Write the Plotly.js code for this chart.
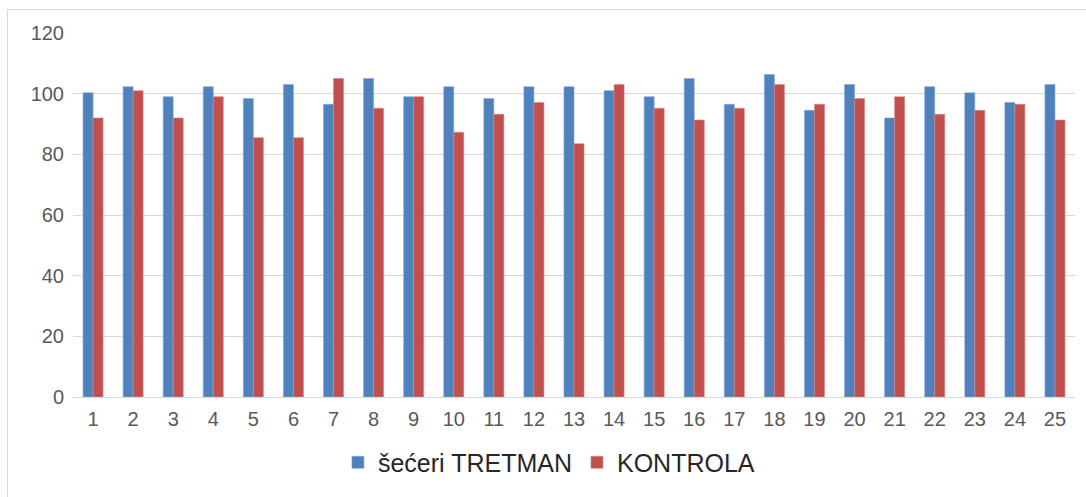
<!DOCTYPE html>
<html>
<head>
<meta charset="utf-8">
<script src="https://cdn.plot.ly/plotly-3.0.1.min.js"></script>
<style>
html,body{margin:0;padding:0;background:#fff;}
#wrap{position:absolute;left:0;top:0;width:1086px;height:497px;}
#frame{position:absolute;left:7px;top:9px;width:1079px;height:488px;border-top:1px solid #d9d9d9;border-left:1px solid #d9d9d9;}
#chart{position:absolute;left:0;top:0;width:1086px;height:497px;}
</style>
</head>
<body>
<div id="wrap"><div id="frame"></div><div id="chart"></div></div>
<script>
const categories = ['1','2','3','4','5','6','7','8','9','10','11','12','13','14','15','16','17','18','19','20','21','22','23','24','25'];
const tretman = [100.3,102.3,99,102.3,98.4,103,96.5,105,99,102.3,98.4,102.3,102.3,101,99,105,96.5,106.3,94.5,103,92,102.3,100.3,97.1,103];
const kontrola = [92,101,92,99,85.5,85.5,105,95.2,99,87.3,93.2,97.1,83.5,103,95.2,91.3,95.2,103,96.5,98.4,99,93.2,94.5,96.5,91.3];
const seriesNames = ['šećeri TRETMAN','KONTROLA'];
const yTicks = [0,20,40,60,80,100,120];

const traces = [
  {type:'bar', name:seriesNames[0], x:categories, y:tretman, marker:{color:'#4F81BD', line:{color:'#7fa6d6', width:0.6}}},
  {type:'bar', name:seriesNames[1], x:categories, y:kontrola, marker:{color:'#C0504D', line:{color:'#d98683', width:0.6}}}
];
const layout = {
  width:1086, height:497,
  margin:{l:73, r:11, t:33, b:97},
  paper_bgcolor:'rgba(0,0,0,0)', plot_bgcolor:'rgba(0,0,0,0)',
  barmode:'group', bargap:0.5, bargroupgap:0,
  font:{family:'Liberation Sans, Arial, sans-serif', color:'#595959'},
  showlegend:true,
  legend:{orientation:'h', x:0.475, xanchor:'center', y:-0.18, yanchor:'middle',
          font:{size:25, color:'#262626'}, itemwidth:30, traceorder:'normal'},
  xaxis:{type:'category', tickfont:{size:20, color:'#595959'}, showline:true, linecolor:'#d9d9d9', linewidth:1,
         ticks:'', showgrid:false, ticklabelstandoff:4, automargin:false},
  yaxis:{range:[0,120], tickvals:yTicks, tickfont:{size:20, color:'#595959'}, showgrid:true, gridcolor:'#d9d9d9',
         gridwidth:1, zeroline:false, showline:false, ticks:'', ticklabelstandoff:8, automargin:false}
};
Plotly.newPlot('chart', traces, layout, {displayModeBar:false, staticPlot:true});
</script>
</body>
</html>
